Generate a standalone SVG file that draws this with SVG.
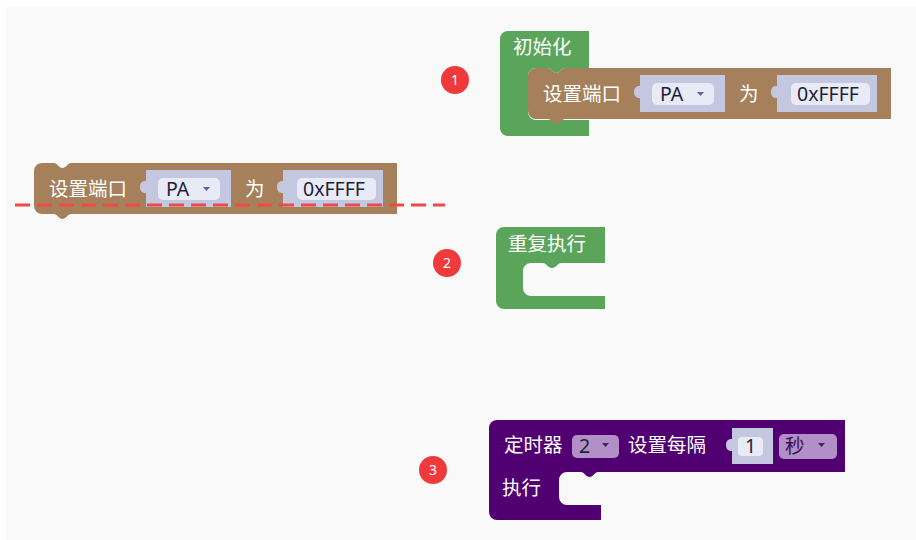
<svg xmlns="http://www.w3.org/2000/svg" width="916" height="540" viewBox="0 0 916 540">
<style>
.lbl{font-family:"Noto Sans","Noto Sans CJK SC",sans-serif;font-size:19.5px;fill:#ffffff}
.fld{font-family:"Noto Sans","Noto Sans CJK SC",sans-serif;font-size:19.5px;fill:#1e1e3a}
.brown{fill:#a5805b}
.green{fill:#5ba55b}
.purple{fill:#510072}
.inbox{fill:#c3c7df}
.infld{fill:#e8eaf5}
.pdrop{fill:#b28fc6}
.arr{fill:#5a63a3}
.parr{fill:#4a1a6a}
.badge circle{fill:#ee3a3a}
.badge text{font-family:"Noto Sans",sans-serif;font-size:14px;fill:#ffffff;text-anchor:middle}
</style>
<rect x="6" y="7" width="910" height="533" fill="#f9f9f9"/>

<g id="init-block">
<path class="green" d="M500,39 A8,8 0 0 1 508,31 H589 V68 H565 C562,68 560,73 556.5,73 C553,73 551,68 548,68 H536 A8,8 0 0 0 528,76 V112 A8,8 0 0 0 536,120 H589 V136 H508 A8,8 0 0 1 500,128 Z"/>
<text class="lbl" x="513" y="54">初始化</text>
</g>

<g id="set-port-inner" transform="translate(528,68)">
<path class="brown" d="M0,8 A8,8 0 0 1 8,0 H20 C23,0 25,5 28.5,5 C32,5 34,0 37,0 H363 V51 H37 C34,51 32,56 28.5,56 C25,56 23,51 20,51 H8 A8,8 0 0 1 0,43 Z"/>
<text class="lbl" x="15" y="33">设置端口</text>
<path class="inbox" d="M112,7 H197 V44 H112 V30 C112,30 106,31 106,24 C106,17 112,18 112,18 Z"/>
<rect class="infld" x="124" y="15" width="62" height="22" rx="5"/>
<text class="fld" x="132" y="33">PA</text>
<path class="arr" d="M169,24 h7 l-3.5,4 z"/>
<text class="lbl" x="211" y="33">为</text>
<path class="inbox" d="M249,7 H349 V44 H249 V30 C249,30 243,31 243,24 C243,17 249,18 249,18 Z"/>
<rect class="infld" x="263" y="15" width="79" height="22" rx="5"/>
<text class="fld" x="269" y="33">0xFFFF</text>
</g>

<g id="set-port-free" transform="translate(34,163)">
<path class="brown" d="M0,8 A8,8 0 0 1 8,0 H20 C23,0 25,5 28.5,5 C32,5 34,0 37,0 H363 V51 H37 C34,51 32,56 28.5,56 C25,56 23,51 20,51 H8 A8,8 0 0 1 0,43 Z"/>
<text class="lbl" x="15" y="33">设置端口</text>
<path class="inbox" d="M112,7 H197 V44 H112 V30 C112,30 106,31 106,24 C106,17 112,18 112,18 Z"/>
<rect class="infld" x="124" y="15" width="62" height="22" rx="5"/>
<text class="fld" x="132" y="33">PA</text>
<path class="arr" d="M169,24 h7 l-3.5,4 z"/>
<text class="lbl" x="211" y="33">为</text>
<path class="inbox" d="M249,7 H349 V44 H249 V30 C249,30 243,31 243,24 C243,17 249,18 249,18 Z"/>
<rect class="infld" x="263" y="15" width="79" height="22" rx="5"/>
<text class="fld" x="269" y="33">0xFFFF</text>
</g>

<g id="repeat-block">
<path class="green" d="M496,235 A8,8 0 0 1 504,227 H605 V263 H561 C558,263 556,268 552,268 C548,268 546,263 543,263 H531 A8,8 0 0 0 523,271 V288 A8,8 0 0 0 531,296 H605 V309 H504 A8,8 0 0 1 496,301 Z"/>
<text class="lbl" x="508" y="251">重复执行</text>
</g>

<g id="timer-block">
<path class="purple" d="M489,428 A8,8 0 0 1 497,420 H845 V472 H598 C595,472 593,477 589.5,477 C586,477 584,472 581,472 H567 A8,8 0 0 0 559,480 V497 A8,8 0 0 0 567,505 H601 V520 H497 A8,8 0 0 1 489,512 Z"/>
<text class="lbl" x="504" y="452">定时器</text>
<rect class="pdrop" x="572" y="435" width="47" height="23" rx="5"/>
<text class="fld" x="579" y="453">2</text>
<path class="parr" d="M602,443 h7 l-3.5,4 z"/>
<text class="lbl" x="628" y="452">设置每隔</text>
<path class="inbox" d="M732,428 H773 V464 H732 V451 C732,451 726,452 726,445 C726,438 732,439 732,439 Z"/>
<rect class="infld" x="738" y="437" width="25" height="19" rx="4"/>
<text class="fld" x="750.5" y="453" text-anchor="middle">1</text>
<rect class="pdrop" x="779" y="434" width="58" height="25" rx="5"/>
<text class="fld" x="785" y="453" style="fill:#3a1050">秒</text>
<path class="parr" d="M818,443 h7 l-3.5,4 z"/>
<text class="lbl" x="502" y="495">执行</text>
</g>

<g id="badge-1" class="badge"><circle cx="455" cy="80" r="14"/><text x="455" y="85">1</text></g>
<g id="badge-2" class="badge"><circle cx="447" cy="263" r="14"/><text x="447" y="268">2</text></g>
<g id="badge-3" class="badge"><circle cx="433" cy="470" r="14"/><text x="433" y="475">3</text></g>

<g id="drop-line">
<line x1="15" y1="205" x2="445" y2="205" stroke="#f24848" stroke-width="3" stroke-dasharray="15 7"/>
</g>
</svg>
